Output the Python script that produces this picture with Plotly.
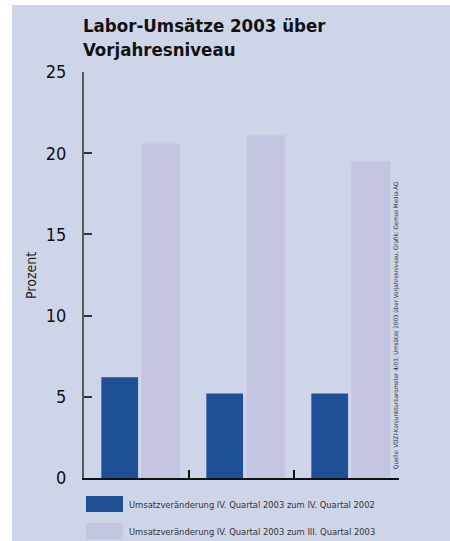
import plotly.graph_objects as go

# ---- data ----
categories = ["Gruppe 1", "Gruppe 2", "Gruppe 3"]
series_names = [
    "Umsatzveränderung IV. Quartal 2003 zum IV. Quartal 2002",
    "Umsatzveränderung IV. Quartal 2003 zum III. Quartal 2003",
]
values_q4_2002 = [6.2, 5.2, 5.2]
values_q3_2003 = [20.6, 21.1, 19.5]
y_ticks = [0, 5, 10, 15, 20, 25]
title_lines = ["Labor-Umsätze 2003 über", "Vorjahresniveau"]
y_title = "Prozent"
source_text = ("Quelle: VDZI-Konjunkturbarometer 4/03, Umsätze 2003 über Vorjahresniveau, "
               "Grafik: Oemus Media AG")

# ---- style ----
W, H = 450, 541
ML, MR, MT, MB = 84, 51, 72, 63
PW, PH = W - ML - MR, H - MT - MB
PANEL = "#cfd5e8"
DARK = "#1f5096"
LIGHT = "#c4c6e1"
FONT = "DejaVu Sans Condensed, Roboto Condensed, Arial Narrow, Liberation Sans"


def px(x):
    return (x - ML) / PW


def py(y):
    return (H - MB - y) / PH


fig = go.Figure()
fig.add_trace(go.Bar(x=categories, y=values_q4_2002, name=series_names[0],
                     marker=dict(color=DARK, line=dict(width=0)),
                     offset=-0.335, width=0.35, showlegend=False))
fig.add_trace(go.Bar(x=categories, y=values_q3_2003, name=series_names[1],
                     marker=dict(color=LIGHT, line=dict(width=0)),
                     offset=0.045, width=0.37, showlegend=False))

shapes = [
    dict(type="rect", xref="paper", yref="paper", layer="below",
         x0=px(12), x1=px(W + 5), y0=py(H + 5), y1=py(5),
         fillcolor=PANEL, line=dict(width=0)),
]
annotations = []

# title
annotations.append(dict(text="<b>%s</b>" % title_lines[0], xref="paper", yref="paper",
                        x=px(81), y=py(13), xanchor="left", yanchor="top", showarrow=False,
                        font=dict(family=FONT, size=18.5, color="#111111")))
annotations.append(dict(text="<b>%s</b>" % title_lines[1], xref="paper", yref="paper",
                        x=px(81), y=py(37), xanchor="left", yanchor="top", showarrow=False,
                        font=dict(family=FONT, size=18.5, color="#111111")))
# y axis title
annotations.append(dict(text=y_title, xref="paper", yref="paper", x=px(31), y=0.5,
                        xanchor="center", yanchor="middle", textangle=-90, showarrow=False,
                        font=dict(family=FONT, size=14, color="#222222")))
# source
annotations.append(dict(text=source_text, xref="paper", yref="paper", x=px(396), y=py(326),
                        xanchor="center", yanchor="middle", textangle=-90, showarrow=False,
                        font=dict(family=FONT, size=6.2, color="#333333")))
# legend
for i, (name, col) in enumerate(zip(series_names, [DARK, LIGHT])):
    top = 496 + i * 27
    shapes.append(dict(type="rect", xref="paper", yref="paper",
                       x0=px(86), x1=px(123), y0=py(top + 16), y1=py(top),
                       fillcolor=col, line=dict(width=0)))
    annotations.append(dict(text=name, xref="paper", yref="paper", x=px(127), y=py(top + 8),
                            xanchor="left", yanchor="middle", showarrow=False,
                            font=dict(family=FONT, size=9.3, color="#333333")))

fig.update_layout(
    width=W, height=H, margin=dict(l=ML, r=MR, t=MT, b=MB, pad=0),
    paper_bgcolor="white", plot_bgcolor="rgba(0,0,0,0)",
    barmode="group", showlegend=False,
    shapes=shapes, annotations=annotations,
    xaxis=dict(type="category", showline=True, linecolor="#111111", linewidth=2,
               ticks="inside", tickson="boundaries", ticklen=8, tickwidth=1.5,
               tickcolor="#111111", showticklabels=False, showgrid=False, zeroline=False),
    yaxis=dict(range=[0, 25], tickvals=y_ticks, showline=True, linecolor="#5a5a5a",
               linewidth=2, ticks="inside", ticklen=8, tickwidth=1.5, tickcolor="#333333",
               ticklabelstandoff=12, showgrid=False, zeroline=False,
               tickfont=dict(family=FONT, size=18, color="#111111")),
)

fig.write_html("out.html")
